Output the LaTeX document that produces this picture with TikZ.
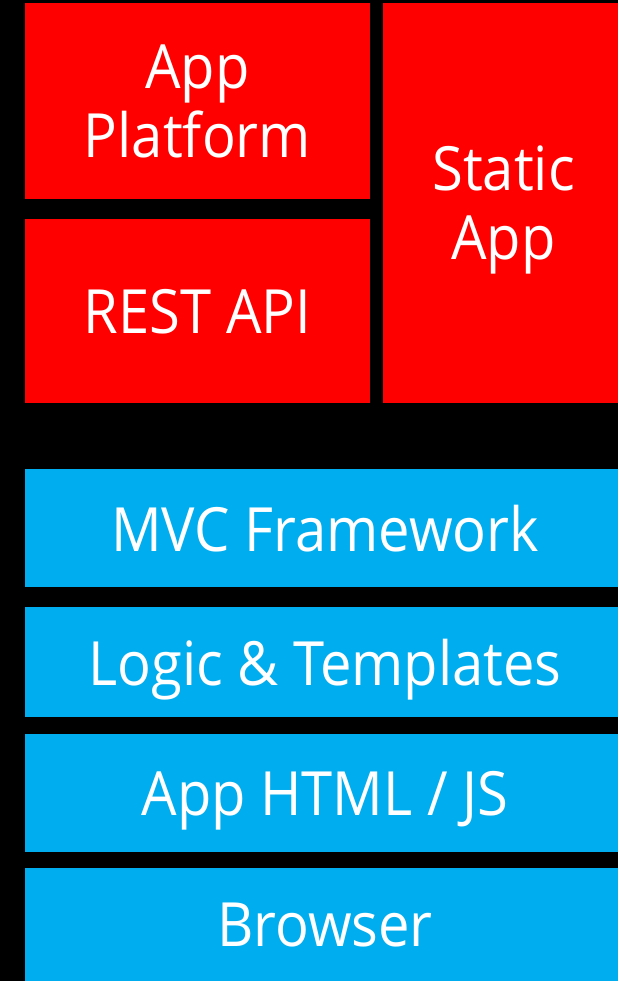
\documentclass[tikz,border=0pt]{standalone}
\usepackage{fontspec}
\setmainfont{Open Sans}[FakeStretch=0.92]
\definecolor{tilered}{RGB}{255,0,0}
\definecolor{tileblue}{RGB}{0,173,239}
\newcommand{\nudge}{\hspace*{7pt}}
\begin{document}
\begin{tikzpicture}[x=1pt,y=-1pt,
  tile/.style={anchor=north west, inner sep=0pt, outer sep=0pt, text=white,
    align=center, font=\fontsize{61}{69}\selectfont, text depth=0pt},
  redtile/.style={tile, fill=tilered},
  bluetile/.style={tile, fill=tileblue}]
\fill[black] (0,0) rectangle (618,981);
\useasboundingbox (0,0) rectangle (618,981);
\node[redtile, minimum width=345pt, minimum height=196pt] (platform) at (25,3) {App\\Platform};
\node[redtile, minimum width=345pt, minimum height=184pt] (rest) at (25,219) {REST API};
\node[redtile, minimum width=235pt, minimum height=400pt] (static) at (383,3) {\hspace*{6pt}Static\\\hspace*{6pt}App};
\node[bluetile, minimum width=593pt, minimum height=118pt] (mvc) at (25,469) {\nudge MVC Framework};
\node[bluetile, minimum width=593pt, minimum height=110pt] (logic) at (25,607) {\nudge Logic \& Templates};
\node[bluetile, minimum width=593pt, minimum height=118pt] (html) at (25,734) {\nudge App HTML / JS};
\node[bluetile, minimum width=593pt, minimum height=113.5pt] (browser) at (25,868) {\nudge Browser};
\end{tikzpicture}
\end{document}
